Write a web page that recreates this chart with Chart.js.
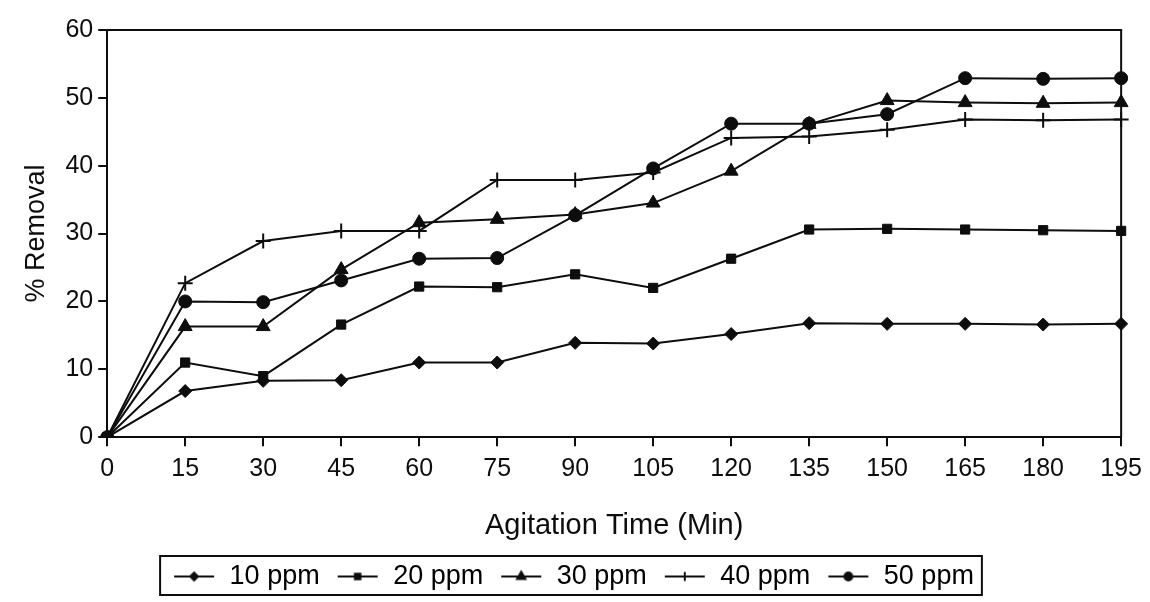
<!DOCTYPE html>
<html>
<head>
<meta charset="utf-8">
<script src="https://cdn.jsdelivr.net/npm/chart.js@4/dist/chart.umd.min.js"></script>
<style>
  html, body { margin: 0; padding: 0; background: #fff; }
  #wrap { width: 1150px; height: 602px; }
</style>
</head>
<body>
<div id="wrap"><canvas id="chart" width="1150" height="602"></canvas></div>
<script>
// Data (agitation time in min, % removal)
const timeLabels = ['0','15','30','45','60','75','90','105','120','135','150','165','180','195'];
const yTicks = [0, 10, 20, 30, 40, 50, 60];
const seriesNames = ['10 ppm', '20 ppm', '30 ppm', '40 ppm', '50 ppm'];
const ppm10 = [0, 6.8, 8.3, 8.4, 11.0, 11.0, 13.9, 13.8, 15.2, 16.8, 16.7, 16.7, 16.6, 16.7];
const ppm20 = [0, 11.0, 9.0, 16.6, 22.2, 22.1, 24.0, 22.0, 26.3, 30.6, 30.7, 30.6, 30.5, 30.4];
const ppm30 = [0, 16.3, 16.3, 24.7, 31.6, 32.1, 32.8, 34.5, 39.2, 46.1, 49.6, 49.3, 49.2, 49.3];
const ppm40 = [0, 22.7, 28.9, 30.4, 30.4, 37.9, 37.9, 39.0, 44.1, 44.3, 45.3, 46.8, 46.7, 46.8];
const ppm50 = [0, 20.0, 19.9, 23.1, 26.3, 26.4, 32.7, 39.6, 46.2, 46.2, 47.6, 52.9, 52.8, 52.9];

const INK = '#0d0d0d';
const FONT = "'Liberation Sans', Arial, sans-serif";
const markers = [
  { style: 'rectRot', radius: 6.5 },
  { style: 'rect', radius: 6.5 },
  { style: 'triangle', radius: 8 },
  { style: 'cross', radius: 7.5 },
  { style: 'circle', radius: 6.5 }
];

// small line+marker icon for legend entries
function legendIcon(m) {
  const c = document.createElement('canvas');
  c.width = 44; c.height = 16;
  const g = c.getContext('2d');
  g.strokeStyle = INK; g.fillStyle = INK; g.lineWidth = 2;
  g.beginPath(); g.moveTo(2, 8); g.lineTo(42, 8); g.stroke();
  Chart.helpers.drawPoint(g, { pointStyle: m.style, radius: m.radius * 0.6, borderWidth: 2 }, 22, 8);
  if (m.style !== 'cross') g.fill();
  return c;
}

const allSeries = [ppm10, ppm20, ppm30, ppm40, ppm50];
const datasets = allSeries.map((vals, i) => ({
  label: seriesNames[i],
  data: vals,
  borderColor: INK,
  backgroundColor: INK,
  borderWidth: 2,
  pointStyle: markers[i].style,
  pointRadius: markers[i].radius,
  pointBorderWidth: markers[i].style === 'cross' ? 2 : 1,
  pointBackgroundColor: INK,
  pointBorderColor: INK,
  tension: 0,
  fill: false
}));

// top/right frame of the plot and a box round the legend
const framePlugin = {
  id: 'frame',
  afterDraw(chart) {
    const { ctx, chartArea: a } = chart;
    ctx.save();
    ctx.strokeStyle = INK;
    ctx.lineWidth = 2;
    ctx.beginPath();
    ctx.moveTo(a.left, a.top);
    ctx.lineTo(a.right, a.top);
    ctx.lineTo(a.right, a.bottom);
    ctx.stroke();
    const boxes = chart.legend.legendHitBoxes || [];
    if (boxes.length) {
      const l = Math.min(...boxes.map(b => b.left)) - 12;
      const r = Math.max(...boxes.map(b => b.left + b.width)) + 8;
      const t = Math.min(...boxes.map(b => b.top)) - 7;
      const bt = Math.max(...boxes.map(b => b.top + b.height)) + 5;
      ctx.lineWidth = 2;
      ctx.strokeRect(l, t, r - l, bt - t);
    }
    ctx.restore();
  }
};

new Chart(document.getElementById('chart'), {
  type: 'line',
  data: { labels: timeLabels, datasets },
  plugins: [framePlugin],
  options: {
    responsive: false,
    animation: false,
    layout: { padding: { left: 16, right: 20, top: 30, bottom: 2 } },
    plugins: {
      tooltip: { enabled: false },
      legend: {
        position: 'bottom',
        labels: {
          usePointStyle: true,
          pointStyleWidth: 44,
          padding: 16,
          color: INK,
          font: { family: FONT, size: 27 },
          generateLabels: chart => chart.data.datasets.map((ds, i) => ({
            text: ds.label,
            pointStyle: legendIcon(markers[i]),
            fillStyle: INK,
            strokeStyle: INK,
            lineWidth: 0,
            datasetIndex: i
          }))
        }
      }
    },
    scales: {
      x: {
        type: 'category',
        offset: false,
        grid: { display: true, drawOnChartArea: false, drawTicks: true, tickLength: 9, color: INK, lineWidth: 2 },
        border: { display: true, color: INK, width: 2 },
        ticks: { color: INK, font: { family: FONT, size: 25 }, padding: 8, maxRotation: 0, autoSkip: false },
        title: { display: true, text: 'Agitation Time (Min)', color: INK, font: { family: FONT, size: 29 }, padding: { top: 16, bottom: 4 } }
      },
      y: {
        min: 0,
        max: 60,
        afterBuildTicks: axis => { axis.ticks = yTicks.map(v => ({ value: v })); },
        grid: { display: true, drawOnChartArea: false, drawTicks: true, tickLength: 9, color: INK, lineWidth: 2 },
        border: { display: true, color: INK, width: 2 },
        ticks: { color: INK, font: { family: FONT, size: 25 }, padding: 5 },
        title: { display: true, text: '% Removal', color: INK, font: { family: FONT, size: 27 }, padding: { bottom: 8 } }
      }
    }
  }
});
</script>
</body>
</html>
